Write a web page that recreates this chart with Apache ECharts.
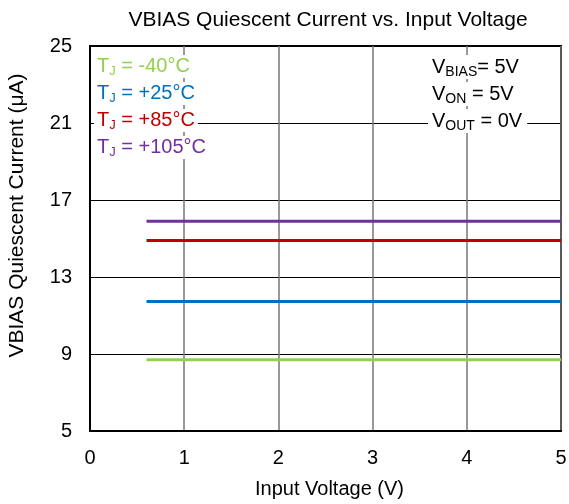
<!DOCTYPE html>
<html>
<head>
	<meta charset="UTF-8">
	<title>VBIAS Quiescent Current</title>
	<script type="text/javascript" src="https://cdn.jsdelivr.net/npm/echarts@6/dist/echarts.min.js"></script>
	<style>
		* { margin: 0; padding: 0; }
		#main { width: 569px; height: 504px; }
	</style>
</head>
<body>
	<div id="main"></div>
	<script>
		// input voltage endpoints of each trace
		var voltage = [0.6, 5];
		var currentM40 = [8.70, 8.70];
		var current25 = [11.73, 11.73];
		var current85 = [14.89, 14.89];
		var current105 = [15.89, 15.89];
		var seriesNames = ['-40°C', '+25°C', '+85°C', '+105°C'];
		var seriesColors = ['#92d050', '#0070c0', '#c00000', '#7030a0'];

		var font = 'Arial, "Liberation Sans", sans-serif';
		var myChart = echarts.init(document.getElementById('main'));

		function pairs(ys) {
			return voltage.map(function (x, i) { return [x, ys[i]]; });
		}
		function makeLine(name, ys, color) {
			return {
				name: name,
				type: 'line',
				showSymbol: false,
				data: pairs(ys),
				lineStyle: { color: color, width: 3 },
				itemStyle: { color: color }
			};
		}

		var legendTexts = seriesNames.map(function (n, i) {
			return {
				type: 'text',
				left: 94,
				top: 55 + i * 27,
				z: 100,
				style: {
					text: 'T{sub|J} = ' + n,
					fill: seriesColors[i],
					font: '20px ' + font,
					backgroundColor: '#fff',
					padding: [0, 3, 0, 3],
					rich: {
						sub: { fontSize: 13, verticalAlign: 'bottom', padding: [10, 0, 0, 0], fill: seriesColors[i], fontFamily: font }
					}
				}
			};
		});
		var condLabels = [['BIAS', '= 5V'], ['ON', ' = 5V'], ['OUT', ' = 0V']];
		var condTexts = condLabels.map(function (c, i) {
			return {
				type: 'text',
				left: 428,
				top: 55 + i * 27,
				z: 100,
				style: {
					text: 'V{sub|' + c[0] + '}' + c[1],
					fill: '#000',
					font: '20px ' + font,
					backgroundColor: '#fff',
					padding: [0, 5, 0, 4],
					rich: {
						sub: { fontSize: 14, verticalAlign: 'bottom', padding: [10, 0, 0, 0], fill: '#000', fontFamily: font }
					}
				}
			};
		});

		var option = {
			backgroundColor: '#fff',
			animation: false,
			title: {
				text: 'VBIAS Quiescent Current vs. Input Voltage',
				left: 323,
				textAlign: 'center',
				top: 5,
				textStyle: { fontFamily: font, fontSize: 21, fontWeight: 'normal', color: '#000' }
			},
			grid: {
				left: 90, right: 8, top: 46, bottom: 73,
				outerBoundsMode: 'none',
				containLabel: false,
				show: true, borderColor: '#000', borderWidth: 2
			},
			xAxis: {
				type: 'value',
				min: 0, max: 5, interval: 1,
				name: 'Input Voltage (V)',
				nameLocation: 'middle',
				nameGap: 48,
				nameTextStyle: { fontFamily: font, fontSize: 20, color: '#000', padding: [0, 0, 0, 8] },
				axisLine: { show: true, lineStyle: { color: '#000', width: 2 } },
				axisTick: { show: false },
				axisLabel: { fontFamily: font, fontSize: 20, color: '#000', margin: 17 },
				splitLine: { show: true, lineStyle: { color: '#777', width: 1.5 } }
			},
			yAxis: {
				type: 'value',
				min: 5, max: 25, interval: 4,
				name: 'VBIAS Quiescent Current (μA)',
				nameLocation: 'middle',
				nameGap: 62,
				nameTextStyle: { fontFamily: font, fontSize: 21, color: '#000', padding: [0, 0, 0, 46] },
				axisLine: { show: true, lineStyle: { color: '#000', width: 2 } },
				axisTick: { show: false },
				axisLabel: { fontFamily: font, fontSize: 20, color: '#000', margin: 18 },
				splitLine: { show: true, lineStyle: { color: '#000', width: 1 } }
			},
			graphic: legendTexts.concat(condTexts),
			series: [
				makeLine(seriesNames[0], currentM40, seriesColors[0]),
				makeLine(seriesNames[1], current25, seriesColors[1]),
				makeLine(seriesNames[2], current85, seriesColors[2]),
				makeLine(seriesNames[3], current105, seriesColors[3])
			]
		};
		myChart.setOption(option);
	</script>
</body>
</html>
